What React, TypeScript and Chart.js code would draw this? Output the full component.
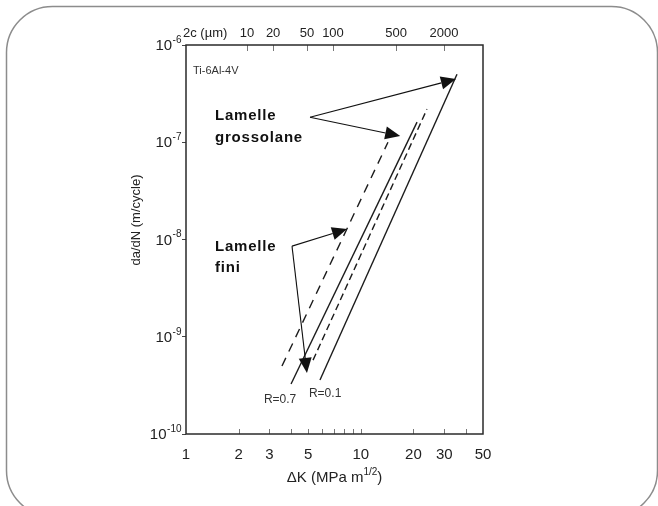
import React, { useEffect, useRef } from "react";
import { Chart, registerables } from "chart.js";

Chart.register(...registerables);

// ---- Data (ΔK in MPa·m^1/2, da/dN in m/cycle) ----
const deltaKFineR07 = [3.54, 14.3];
const rateFineR07 = [5.0e-10, 1.0e-7];
const deltaKCoarseR07 = [3.99, 20.97];
const rateCoarseR07 = [3.27e-10, 1.61e-7];
const deltaKFineR01 = [5.33, 23.9];
const rateFineR01 = [5.75e-10, 2.19e-7];
const deltaKCoarseR01 = [5.84, 35.5];
const rateCoarseR01 = [3.59e-10, 5.0e-7];

// ---- Axes ----
const xMin = 1;
const xMax = 50;
const yMin = 1e-10;
const yMax = 1e-6;
const bottomTickValues = [1, 2, 3, 4, 5, 6, 7, 8, 9, 10, 20, 30, 40, 50];
const bottomTickLabels = [1, 2, 3, 5, 10, 20, 30, 50];
const yTickValues = [1e-10, 1e-9, 1e-8, 1e-7, 1e-6];
const topTickLabels = ["10", "20", "50", "100", "500", "2000"]; // 2c (µm)
const topTickDeltaK = [2.23, 3.15, 4.92, 6.93, 15.9, 29.9];

// ---- Annotations (in data coordinates) ----
const textLabels = [
  { text: "Ti-6Al-4V", k: 1.097, r: 5.4e-7, bold: false, size: 11 },
  { text: "Lamelle", k: 1.465, r: 1.85e-7, bold: true, size: 15 },
  { text: "grossolane", k: 1.465, r: 1.1e-7, bold: true, size: 15 },
  { text: "Lamelle", k: 1.465, r: 8.35e-9, bold: true, size: 15 },
  { text: "fini", k: 1.465, r: 5.08e-9, bold: true, size: 15 },
  { text: "R=0.7", k: 2.79, r: 2.23e-10, bold: false, size: 12 },
  { text: "R=0.1", k: 5.05, r: 2.58e-10, bold: false, size: 12 },
];
const coarseArrowFrom = [5.12, 1.81e-7];
const coarseArrowTips = [
  [35.0, 4.46e-7],
  [16.8, 1.16e-7],
];
const fineArrowFrom = [4.04, 8.55e-9];
const fineArrowTips = [
  [8.34, 1.28e-8],
  [4.92, 4.24e-10],
];

const FONT = "'Liberation Sans', Arial, sans-serif";

function drawArrow(ctx: CanvasRenderingContext2D, x0: number, y0: number, x1: number, y1: number) {
  const ang = Math.atan2(y1 - y0, x1 - x0);
  const L = 15;
  const W = 6.5;
  const bx = x1 - L * Math.cos(ang);
  const by = y1 - L * Math.sin(ang);
  ctx.beginPath();
  ctx.moveTo(x0, y0);
  ctx.lineTo(bx, by);
  ctx.stroke();
  ctx.beginPath();
  ctx.moveTo(x1, y1);
  ctx.lineTo(bx + W * Math.sin(ang), by - W * Math.cos(ang));
  ctx.lineTo(bx - W * Math.sin(ang), by + W * Math.cos(ang));
  ctx.closePath();
  ctx.fill();
}

const decorPlugin = {
  id: "decor",
  beforeDraw(chart: any) {
    const ctx = chart.ctx as CanvasRenderingContext2D;
    ctx.save();
    ctx.fillStyle = "#ffffff";
    ctx.fillRect(0, 0, chart.width, chart.height);
    ctx.strokeStyle = "#8c8c8c";
    ctx.lineWidth = 1.5;
    ctx.beginPath();
    (ctx as any).roundRect(6.5, 6.5, 651, 510, 46);
    ctx.stroke();
    ctx.restore();
  },
  afterDraw(chart: any) {
    const ctx = chart.ctx as CanvasRenderingContext2D;
    const xs = chart.scales.x;
    const xt = chart.scales.xTop;
    const ys = chart.scales.y;
    const a = chart.chartArea;
    ctx.save();

    // inward ticks bottom
    ctx.strokeStyle = "#777";
    ctx.lineWidth = 1;
    bottomTickValues.forEach((v) => {
      if (v === xMin || v === xMax) return;
      const px = Math.round(xs.getPixelForValue(v)) + 0.5;
      ctx.beginPath();
      ctx.moveTo(px, a.bottom);
      ctx.lineTo(px, a.bottom - 5);
      ctx.stroke();
    });
    // inward ticks top
    topTickDeltaK.forEach((v) => {
      const px = Math.round(xt.getPixelForValue(v)) + 0.5;
      ctx.beginPath();
      ctx.moveTo(px, a.top);
      ctx.lineTo(px, a.top + 6);
      ctx.stroke();
    });

    // plot frame
    ctx.strokeStyle = "#2a2a2a";
    ctx.lineWidth = 1.5;
    ctx.strokeRect(a.left, a.top, a.right - a.left, a.bottom - a.top);

    // y tick labels: 10 with superscript exponent
    ctx.fillStyle = "#222";
    ctx.textBaseline = "middle";
    ctx.textAlign = "left";
    yTickValues.forEach((v) => {
      const py = ys.getPixelForValue(v);
      const exp = String(Math.round(Math.log10(v)));
      ctx.font = `10px ${FONT}`;
      const we = ctx.measureText(exp).width;
      ctx.font = `15px ${FONT}`;
      const wb = ctx.measureText("10").width;
      const x0 = a.left - 5 - we - wb;
      ctx.fillText("10", x0, py + 1);
      ctx.font = `10px ${FONT}`;
      ctx.fillText(exp, x0 + wb + 0.5, py - 5);
    });

    // "2c (µm)" label of top axis
    ctx.font = `13px ${FONT}`;
    ctx.fillText("2c (\u00B5m)", 183, a.top - 12);

    // x title with superscript
    const cx = (a.left + a.right) / 2;
    const ty = 478;
    ctx.font = `15px ${FONT}`;
    const p1 = "\u0394K (MPa m";
    const p3 = ")";
    const w1 = ctx.measureText(p1).width;
    const w3 = ctx.measureText(p3).width;
    ctx.font = `10px ${FONT}`;
    const p2 = "1/2";
    const w2 = ctx.measureText(p2).width;
    let sx = cx - (w1 + w2 + w3) / 2;
    ctx.font = `15px ${FONT}`;
    ctx.fillText(p1, sx, ty);
    sx += w1;
    ctx.font = `10px ${FONT}`;
    ctx.fillText(p2, sx, ty - 6);
    sx += w2;
    ctx.font = `15px ${FONT}`;
    ctx.fillText(p3, sx, ty);

    // y title
    ctx.save();
    ctx.translate(136, 220);
    ctx.rotate(-Math.PI / 2);
    ctx.textAlign = "center";
    ctx.font = `13px ${FONT}`;
    ctx.fillText("da/dN (m/cycle)", 0, 0);
    ctx.restore();

    // text labels
    textLabels.forEach((t) => {
      ctx.font = `${t.bold ? "bold " : ""}${t.size}px ${FONT}`;
      (ctx as any).letterSpacing = t.bold ? "0.8px" : "0px";
      ctx.fillStyle = t.bold ? "#111" : "#333";
      ctx.textAlign = "left";
      ctx.textBaseline = "middle";
      ctx.fillText(t.text, xs.getPixelForValue(t.k), ys.getPixelForValue(t.r));
    });
    (ctx as any).letterSpacing = "0px";

    // arrows
    ctx.strokeStyle = "#111";
    ctx.fillStyle = "#111";
    ctx.lineWidth = 1.1;
    const fx = xs.getPixelForValue(coarseArrowFrom[0]);
    const fy = ys.getPixelForValue(coarseArrowFrom[1]);
    coarseArrowTips.forEach((p) =>
      drawArrow(ctx, fx, fy, xs.getPixelForValue(p[0]), ys.getPixelForValue(p[1]))
    );
    const gx = xs.getPixelForValue(fineArrowFrom[0]);
    const gy = ys.getPixelForValue(fineArrowFrom[1]);
    fineArrowTips.forEach((p) =>
      drawArrow(ctx, gx, gy, xs.getPixelForValue(p[0]), ys.getPixelForValue(p[1]))
    );

    ctx.restore();
  },
};

export default function App() {
  const ref = useRef<HTMLCanvasElement>(null);
  useEffect(() => {
    const canvas = ref.current!;
    const pts = (k: number[], r: number[]) => k.map((x, i) => ({ x, y: r[i] }));
    const ds = (label: string, k: number[], r: number[], dash: number[]) => ({
      label,
      data: pts(k, r),
      borderColor: "#1c1c1c",
      borderWidth: 1.4,
      borderDash: dash,
      pointRadius: 0,
      fill: false,
      tension: 0,
    });
    const chart = new Chart(canvas, {
      type: "line",
      data: {
        datasets: [
          ds("Lamelle fini R=0.7", deltaKFineR07, rateFineR07, [9, 7]),
          ds("Lamelle grossolane R=0.7", deltaKCoarseR07, rateCoarseR07, []),
          ds("Lamelle fini R=0.1", deltaKFineR01, rateFineR01, [7, 4]),
          ds("Lamelle grossolane R=0.1", deltaKCoarseR01, rateCoarseR01, []),
        ] as any,
      },
      options: {
        responsive: false,
        animation: false,
        devicePixelRatio: 1,
        layout: { padding: { left: 0, right: 175, top: 0, bottom: 0 } },
        plugins: { legend: { display: false }, tooltip: { enabled: false } },
        scales: {
          x: {
            type: "logarithmic",
            position: "bottom",
            min: xMin,
            max: xMax,
            afterBuildTicks: (s: any) => {
              s.ticks = bottomTickValues.map((v) => ({ value: v }));
            },
            afterFit: (s: any) => {
              s.height = 72;
            },
            grid: { drawOnChartArea: false, drawTicks: false },
            border: { display: false },
            ticks: {
              autoSkip: false,
              maxRotation: 0,
              padding: 12,
              color: "#222",
              font: { family: FONT, size: 15 },
              callback: (v: any) => (bottomTickLabels.includes(Number(v)) ? String(v) : ""),
            },
          },
          xTop: {
            type: "logarithmic",
            axis: "x",
            position: "top",
            min: xMin,
            max: xMax,
            afterBuildTicks: (s: any) => {
              s.ticks = topTickDeltaK.map((v) => ({ value: v }));
            },
            afterFit: (s: any) => {
              s.height = 45;
            },
            grid: { drawOnChartArea: false, drawTicks: false },
            border: { display: false },
            ticks: {
              autoSkip: false,
              maxRotation: 0,
              padding: 4,
              color: "#222",
              font: { family: FONT, size: 13 },
              callback: (_v: any, i: number) => topTickLabels[i],
            },
          },
          y: {
            type: "logarithmic",
            min: yMin,
            max: yMax,
            afterBuildTicks: (s: any) => {
              s.ticks = yTickValues.map((v) => ({ value: v }));
            },
            afterFit: (s: any) => {
              s.width = 186;
            },
            grid: { drawOnChartArea: false, drawTicks: true, tickLength: 4, tickColor: "#444" },
            border: { display: false },
            ticks: { display: false },
          },
        } as any,
      },
      plugins: [decorPlugin as any],
    });
    return () => chart.destroy();
  }, []);
  return (
    <div style={{ position: "fixed", left: 0, top: 0, width: 658, height: 506, background: "#fff" }}>
      <canvas ref={ref} width={658} height={506} style={{ display: "block" }} />
    </div>
  );
}
